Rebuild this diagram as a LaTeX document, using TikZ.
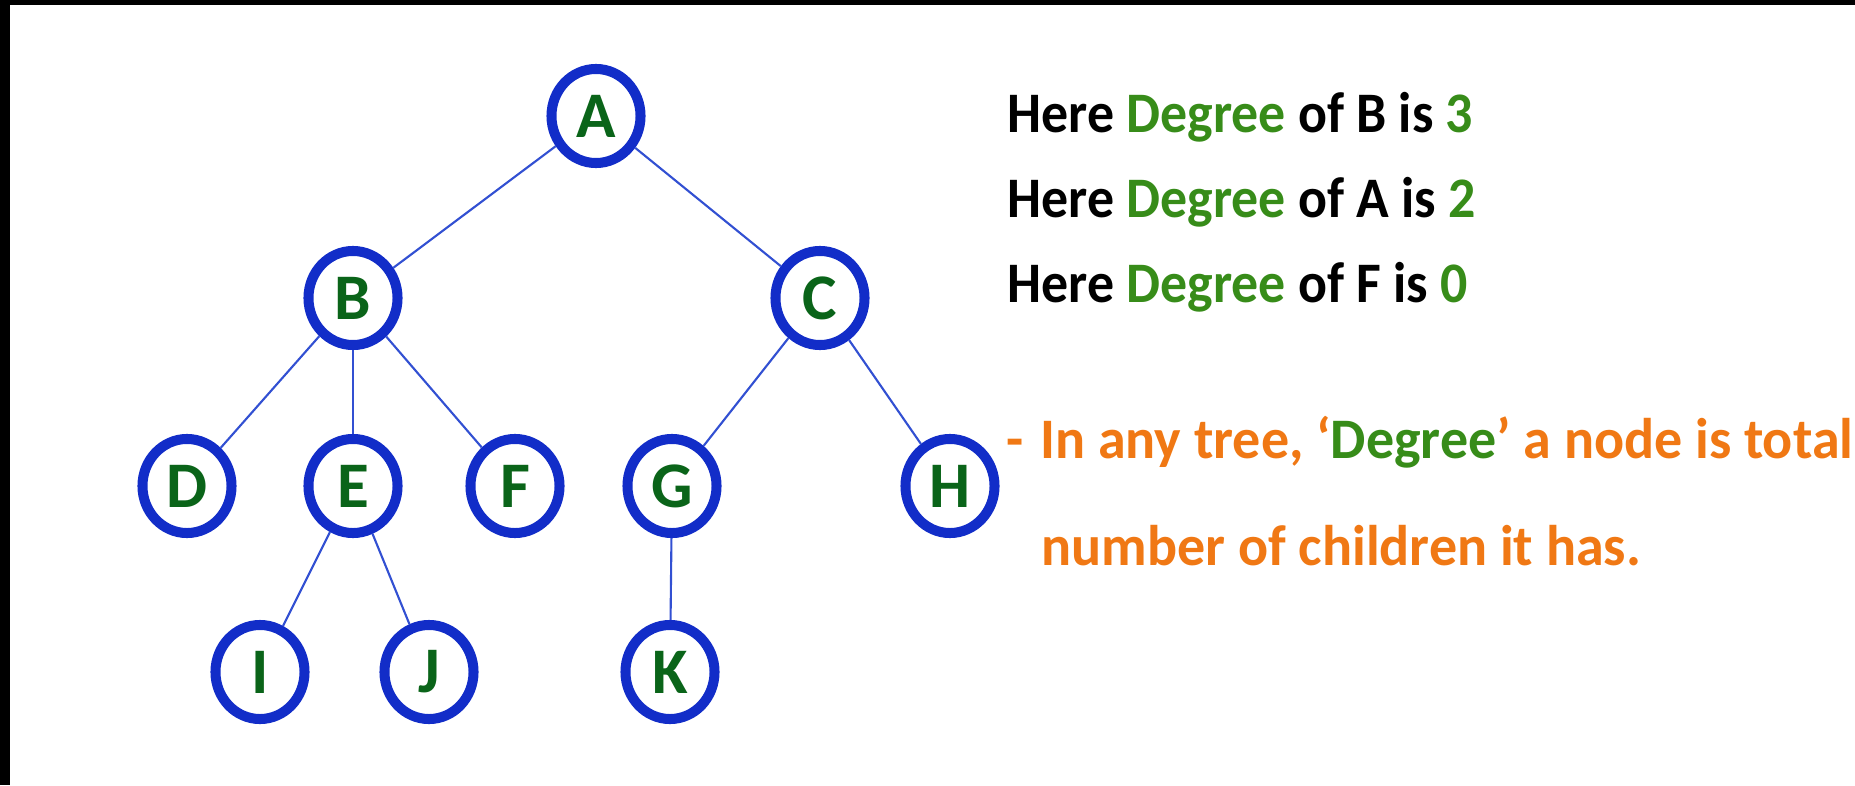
\documentclass[tikz,border=0pt]{standalone}
\usepackage{fontspec}
\setmainfont{Carlito}
\usetikzlibrary{shapes.geometric}
\definecolor{ringblue}{RGB}{18,45,200}
\definecolor{edgeblue}{RGB}{50,80,210}
\definecolor{lettergreen}{RGB}{10,100,25}
\definecolor{textgreen}{RGB}{55,140,25}
\definecolor{textorange}{RGB}{240,120,20}
\tikzset{
  treenode/.style={ellipse, draw=ringblue, line width=2.85pt, minimum width=0.89cm,
    minimum height=0.94cm, inner sep=0pt, text=lettergreen, font=\fontsize{18.5}{20}\bfseries},
  edge/.style={draw=edgeblue, line width=0.6pt},
  degtext/.style={anchor=base west, inner sep=0pt, font=\fontsize{16.3}{18}\bfseries,
    xscale=0.94, transform shape},
  ruletext/.style={degtext, text=textorange, xscale=1.04}
}
\begin{document}
\begin{tikzpicture}[x=0.01cm, y=-0.01cm]
  \useasboundingbox (0,0) rectangle (1855,785);
  % frame edges
  \fill[black] (0,0) rectangle (1855,5);
  \fill[black] (0,0) rectangle (10,785);
  % tree
  \foreach \n/\x/\y in {A/596/116, B/353/298, C/820/298, D/187/486, E/353/486,
                         F/515/486, G/672/486, H/950/486, I/260/672, J/429/672, K/670/672} {
    \node[treenode] (\n) at (\x,\y) {\n};
  }
  \foreach \p/\c in {A/B, A/C, B/D, B/E, B/F, C/G, C/H, E/I, E/J, G/K} {
    \draw[edge] (\p) -- (\c);
  }
  % degree notes
  \node[degtext] (degB) at (1007,133) {Here \textcolor{textgreen}{Degree} of B is \textcolor{textgreen}{3}};
  \node[degtext] (degA) at (1007,218) {Here \textcolor{textgreen}{Degree} of A is \textcolor{textgreen}{2}};
  \node[degtext] (degF) at (1007,302) {Here \textcolor{textgreen}{Degree} of F is \textcolor{textgreen}{0}};
  \node[ruletext] (rule1) at (1006,458)
    {-\hspace{0.17cm}In any tree, ‘\textcolor{textgreen}{Degree}’ a node is total};
  \node[ruletext] (rule2) at (1041,565) {number of children it has.};
\end{tikzpicture}
\end{document}
